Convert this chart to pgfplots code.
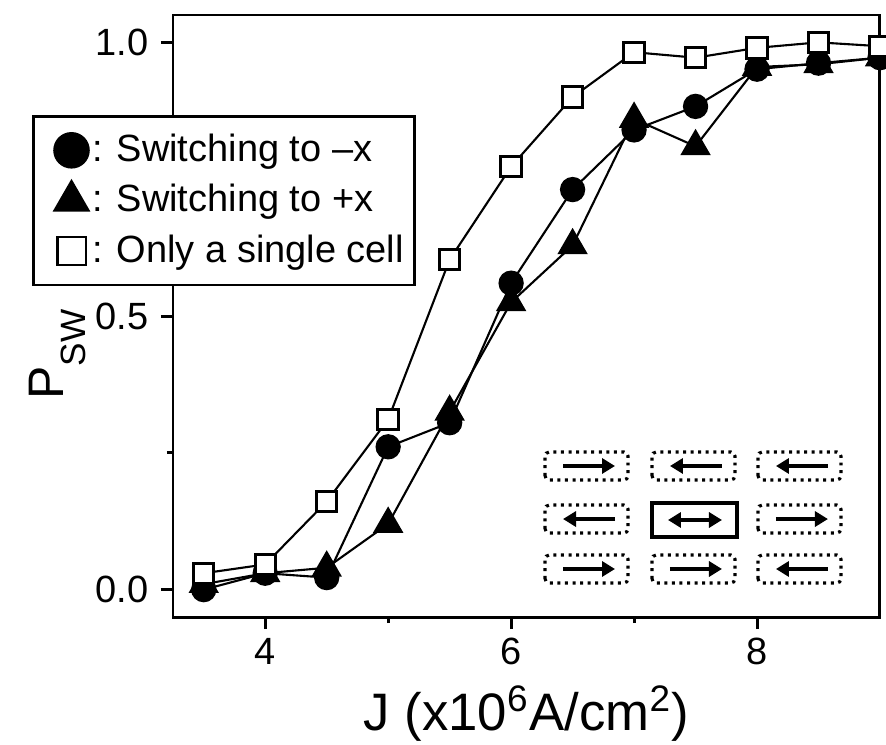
\documentclass[border=0pt]{standalone}
\usepackage{fontspec}
\setmainfont{Liberation Sans}
\usepackage{pgfplots}
\pgfplotsset{compat=1.18}
\usetikzlibrary{arrows.meta}

% inset: 3x3 cells with magnetisation arrows
\tikzset{
  dotbox/.style={line width=0.9pt, dash pattern=on 0.85pt off 1.3pt, rounded corners=1.2pt},
  cellarr/.style={line width=1pt, -{Triangle[length=1.3mm,width=1.5mm]}},
}
\newcommand{\rcell}[2]{%
  \draw[dotbox] (rel axis cs:#1,#2) rectangle ++(0.83cm,0.28cm);
  \draw[cellarr] ([shift={(0.18cm,0.14cm)}]rel axis cs:#1,#2) -- ++(0.52cm,0cm);}
\newcommand{\lcell}[2]{%
  \draw[dotbox] (rel axis cs:#1,#2) rectangle ++(0.83cm,0.28cm);
  \draw[cellarr] ([shift={(0.70cm,0.14cm)}]rel axis cs:#1,#2) -- ++(-0.52cm,0cm);}

\begin{document}
\begin{tikzpicture}
\begin{axis}[
  at={(0,0)}, anchor=south west,
  scale only axis, width=7.07cm, height=6.02cm,
  xmin=3.25, xmax=9.0, ymin=-0.05, ymax=1.05,
  xtick={4,6,8}, minor xtick={5,7},
  ytick={0,0.5,1}, minor ytick={0.25,0.75},
  tick pos=left, tick align=outside,
  major tick length=1.2mm, minor tick length=0.6mm,
  axis line style={line width=0.85pt},
  every tick/.style={black, line width=0.85pt},
  /pgf/number format/assume math mode=true,
  tick label style={font=\fontsize{10.8}{12}\selectfont},
  xticklabel style={yshift=0.3mm},
  yticklabel style={/pgf/number format/.cd, fixed, fixed zerofill, precision=1},
  xlabel={J (x10\textsuperscript{6}A/cm\textsuperscript{2})},
  xlabel style={at={(axis description cs:0.5,-0.1877)}, anchor=base,
    inner sep=0pt, font=\fontsize{15}{16}\selectfont},
  ylabel={P\raisebox{-6.5pt}{\fontsize{10}{10}\selectfont SW}},
  ylabel style={at={(axis description cs:-0.205,0.436)}, anchor=north,
    inner sep=0pt, font=\fontsize{14.2}{15}\selectfont},
  legend image code/.code={\path (0cm,0cm) (0.44cm,0cm);
    \draw[#1, only marks] plot coordinates {(0.3cm,0cm)};},
  legend style={at={(rel axis cs:-0.1994,0.834)}, anchor=north west,
    draw=black, line width=0.8pt, fill=white,
    font=\fontsize{10.8}{12}\selectfont,
    inner xsep=2pt, inner ysep=3pt, row sep=1pt,
    nodes={inner xsep=1pt}},
  legend cell align=left,
]
\addplot[black, line width=0.6pt, mark=*, mark size=3.3pt,
  legend image post style={mark size=4.9pt}] coordinates {
  (3.5,0.0) (4.0,0.03) (4.5,0.022) (5.0,0.261) (5.5,0.305) (6.0,0.56)
  (6.5,0.731) (7.0,0.84) (7.5,0.883) (8.0,0.951) (8.5,0.962) (9.0,0.972)};
\addplot[black, line width=0.6pt, mark=triangle*, mark size=4.4pt,
  legend image post style={mark size=5.6pt}] coordinates {
  (3.5,0.01) (4.0,0.03) (4.5,0.04) (5.0,0.12) (5.5,0.325) (6.0,0.525)
  (6.5,0.629) (7.0,0.86) (7.5,0.81) (8.0,0.955) (8.5,0.96) (9.0,0.972)};
\addplot[black, line width=0.6pt, mark=square*,
  mark options={fill=white, line width=0.85pt}, mark size=2.9pt,
  legend image post style={mark size=4pt, mark options={fill=white, line width=0.6pt}}] coordinates {
  (3.5,0.03) (4.0,0.046) (4.5,0.161) (5.0,0.311) (5.5,0.603) (6.0,0.773)
  (6.5,0.90) (7.0,0.982) (7.5,0.972) (8.0,0.99) (8.5,1.0) (9.0,0.993)};
\legend{{: Switching to –x}, {: Switching to +x}, {: Only a single cell}}

\rcell{0.5262}{0.2276}
\lcell{0.6775}{0.2276}
\lcell{0.8274}{0.2276}
\lcell{0.5262}{0.1395}
\rcell{0.8274}{0.1395}
\rcell{0.5262}{0.0565}
\rcell{0.6775}{0.0565}
\lcell{0.8274}{0.0565}
\draw[line width=1.1pt] (rel axis cs:0.6775,0.1329) rectangle ++(0.85cm,0.34cm);
\draw[line width=1pt, {Triangle[length=1.3mm,width=1.5mm]}-{Triangle[length=1.3mm,width=1.5mm]}]
  ([shift={(0.16cm,0.17cm)}]rel axis cs:0.6775,0.1329) -- ++(0.54cm,0cm);
\end{axis}
\pgfresetboundingbox
\path (-1.73cm,-1.27cm) rectangle (7.13cm,6.17cm);
\end{tikzpicture}
\end{document}
